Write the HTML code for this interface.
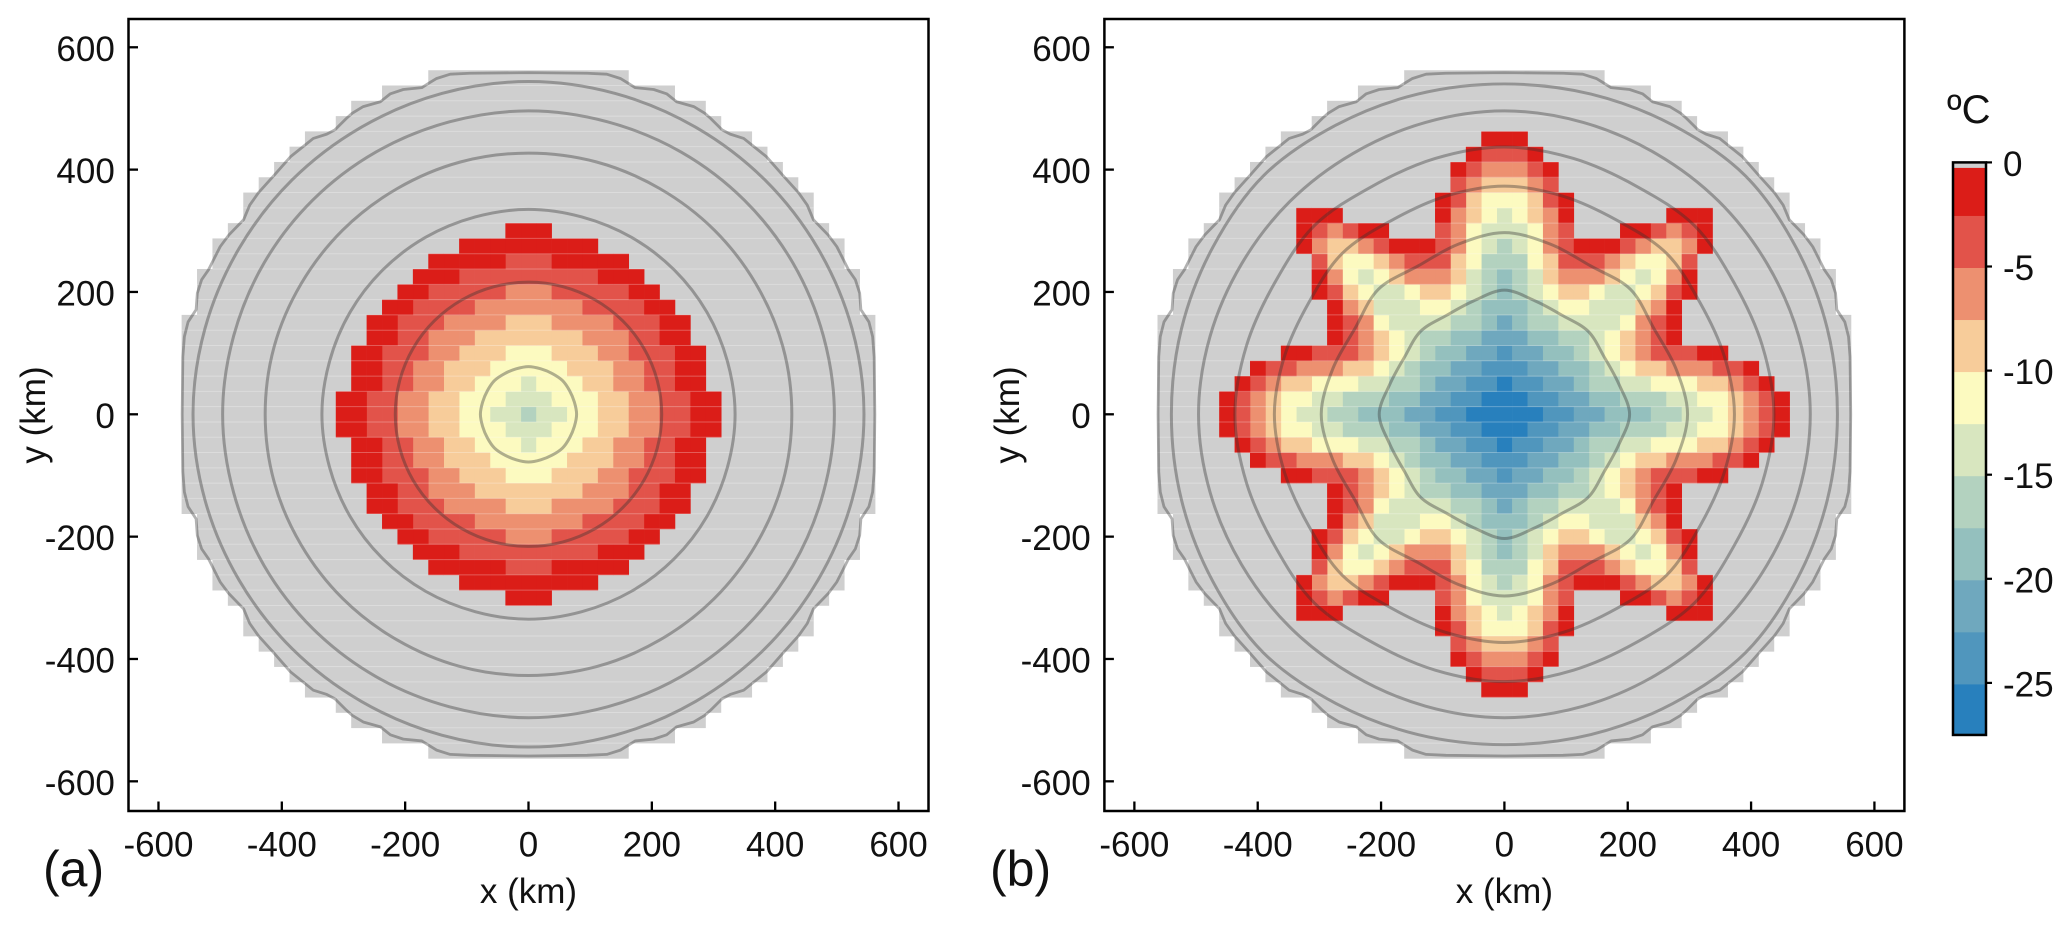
<!DOCTYPE html>
<html lang="en">
<head>
<meta charset="utf-8">
<title>Ice temperature maps</title>
<style>
html,body{margin:0;padding:0;background:#fff;width:2067px;height:929px;overflow:hidden}
svg{display:block}
text{font-family:"Liberation Sans",Arial,sans-serif;fill:#111}
</style>
</head>
<body>
<svg id="figure" xmlns="http://www.w3.org/2000/svg" width="2067" height="929" viewBox="0 0 2067 929">
  <g id="panel-a"></g>
  <g id="panel-b"></g>
  <g id="colorbar"></g>
  <text x="43" y="886" font-size="50">(a)</text>
  <text x="990" y="886" font-size="50">(b)</text>
  <text x="528.5" y="903" font-size="35" text-anchor="middle">x (km)</text>
  <text x="1504.4" y="903" font-size="35" text-anchor="middle">x (km)</text>
  <text transform="translate(45,415) rotate(-90)" font-size="35" text-anchor="middle">y (km)</text>
  <text transform="translate(1019,415) rotate(-90)" font-size="35" text-anchor="middle">y (km)</text>
  <text x="1947" y="123" font-size="40">ºC</text>
</svg>
<script>
// ---- chart data ----
var axisTicks = [-600, -400, -200, 0, 200, 400, 600];
var colorbarTicks = [0, -5, -10, -15, -20, -25];
var binBreaks = [0, -2.5, -5, -7.5, -10, -12.5, -15, -17.5, -20, -22.5, -25, -27.5];
var binColors = ['#db1d18', '#e2534a', '#ed9070', '#f7cc9a', '#fcfac0', '#d8e6bf', '#b3d2bf', '#94c0be', '#6fa8be', '#5096bd', '#2880bd'];
var gridSpacingKm = 25;

// Half-width (cell count) of the ice mask for rows j = 0..22
var iceHalfCells = [22, 22, 22, 22, 22, 22, 22, 21, 21, 21, 20, 20, 19, 18, 18, 17, 16, 15, 14, 12, 11, 9, 6];

// Surface temperature (deg C) upper-right quadrant: row j, column i. null = no melt-zone value
var tempA = [
  [-16, -14, -14, -11, -11, -9, -9, -6, -6, -4, -4, -1, -1],
  [-14, -14, -11, -11, -11, -9, -9, -6, -6, -4, -4, -1, -1],
  [-14, -11, -11, -11, -9, -9, -6, -6, -4, -4, -1, -1],
  [-11, -11, -11, -9, -9, -9, -6, -6, -4, -4, -1, -1],
  [-11, -11, -9, -9, -9, -6, -6, -4, -4, -4, -1, -1],
  [-9, -9, -9, -9, -6, -6, -6, -4, -4, -1, -1],
  [-9, -9, -6, -6, -6, -6, -4, -4, -4, -1, -1],
  [-6, -6, -6, -6, -4, -4, -4, -4, -1, -1],
  [-6, -6, -4, -4, -4, -4, -4, -1, -1],
  [-4, -4, -4, -4, -4, -1, -1, -1],
  [-4, -4, -1, -1, -1, -1, -1],
  [-1, -1, -1, -1, -1],
  [-1, -1]
];
var tempB = [
  [-26, -26, -26, -24, -24, -21, -21, -19, -19, -19, -16, -16, -14, -14, -11, -9, -6, -4, -1],
  [-26, -26, -24, -24, -21, -21, -19, -19, -16, -16, -16, -14, -14, -11, -11, -9, -6, -4, -1],
  [-26, -24, -24, -21, -21, -19, -16, -16, -14, -14, -11, -11, -11, -9, -9, -6, -4, -1],
  [-24, -24, -21, -21, -19, -19, -16, -14, -11, -9, -9, -6, -6, -6, -4, -4, -1],
  [-24, -21, -21, -19, -19, -16, -14, -11, -9, -6, -4, -4, -4, -1, -1],
  [-21, -21, -19, -19, -16, -16, -14, -11, -9, -6, -4, -1],
  [-21, -19, -16, -16, -14, -14, -14, -14, -11, -6, -4, -1],
  [-19, -19, -16, -14, -11, -11, -14, -14, -14, -9, -6, -1],
  [-19, -16, -14, -11, -9, -9, -11, -14, -14, -11, -9, -4, -1],
  [-19, -16, -14, -9, -6, -6, -6, -9, -11, -14, -11, -6, -1],
  [-16, -16, -11, -9, -4, -4, -4, -6, -9, -11, -11, -9, -4],
  [-16, -14, -11, -6, -4, -1, -1, -1, -4, -6, -9, -9, -6, -1],
  [-14, -14, -11, -6, -4, null, null, null, -1, -1, -4, -6, -4, -1],
  [-14, -11, -9, -6, -1, null, null, null, null, null, null, -1, -1, -1],
  [-11, -11, -9, -4, -1],
  [-9, -9, -6, -4],
  [-6, -6, -4, -1],
  [-4, -4, -1],
  [-1, -1]
];

// Ice-thickness contours: radius (km) at each polar angle in the first quadrant
var contourAngles = [0, 15, 30, 45, 60, 75, 90];
var contoursA = [
  [544, 543, 542, 542, 542, 543, 544],
  [496, 495, 495, 495, 495, 495, 496],
  [427, 427, 426, 426, 426, 427, 427],
  [335, 334, 334, 334, 334, 334, 335],
  [216, 216, 216, 216, 216, 216, 216],
  [78, 77, 77, 78, 77, 77, 78]
];
var contoursB = [
  [540, 542, 546, 552, 546, 542, 540],
  [496, 494, 492, 492, 492, 494, 496],
  [437, 433, 430, 436, 430, 433, 437],
  [373, 369, 366, 372, 366, 369, 373],
  [297, 288, 280, 289, 280, 288, 297],
  [203, 192, 187, 192, 187, 192, 203]
];
// Outer ice margin contour, first quadrant (km)
var marginX = [0, 95, 127, 149, 162, 173, 203, 224, 240, 268, 286, 295, 314, 327, 349, 365, 386, 413, 438, 452, 462, 486, 500, 511, 519, 530, 537, 539, 552, 558, 560.5, 561.6];
var marginY = [558.6, 557.5, 556, 549, 541, 534, 531, 524, 511, 503, 492, 484, 465, 458, 451, 438, 421, 390, 362, 342, 318, 293, 274, 252, 236, 220, 198, 171, 151, 127, 94, 0];

// ---- layout ----
var NS = 'http://www.w3.org/2000/svg';
var KM_X = 0.6167, KM_Y = 0.6117, Y_ZERO = 414.3;
var FRAME_TOP = 19, FRAME_BOTTOM = 811;
var ICE_GRAY = '#cfcfcf';
var CONTOUR = 'rgba(50,50,50,0.38)';

function mk(parent, tag, attrs, txt) {
  var n = document.createElementNS(NS, tag);
  for (var k in attrs) n.setAttribute(k, attrs[k]);
  if (txt !== undefined) n.textContent = txt;
  parent.appendChild(n);
  return n;
}
function binColor(t) {
  for (var b = 0; b < binColors.length; b++) {
    if (t <= binBreaks[b] && t > binBreaks[b + 1]) return binColors[b];
  }
  return binColors[binColors.length - 1];
}
function smoothClosedPath(pts) {
  var n = pts.length, d = 'M' + pts[0][0].toFixed(2) + ' ' + pts[0][1].toFixed(2);
  for (var i = 0; i < n; i++) {
    var p0 = pts[(i - 1 + n) % n], p1 = pts[i], p2 = pts[(i + 1) % n], p3 = pts[(i + 2) % n];
    d += 'C' + (p1[0] + (p2[0] - p0[0]) / 6).toFixed(2) + ' ' + (p1[1] + (p2[1] - p0[1]) / 6).toFixed(2) + ' ' +
      (p2[0] - (p3[0] - p1[0]) / 6).toFixed(2) + ' ' + (p2[1] - (p3[1] - p1[1]) / 6).toFixed(2) + ' ' +
      p2[0].toFixed(2) + ' ' + p2[1].toFixed(2);
  }
  return d + 'Z';
}

function drawPanel(group, xZero, temps, contours) {
  function xs(km) { return xZero + km * KM_X; }
  function ys(km) { return Y_ZERO - km * KM_Y; }
  var cellW = gridSpacingKm * KM_X, cellH = gridSpacingKm * KM_Y;
  var signs = [1, -1];

  // ice mask rows
  iceHalfCells.forEach(function (half, j) {
    signs.forEach(function (s) {
      if (j === 0 && s < 0) return;
      var row = mk(group, 'rect', {
        x: xs(-(half + 0.5) * gridSpacingKm), y: ys((s * j + 0.5) * gridSpacingKm),
        width: (2 * half + 1) * cellW, height: cellH + 0.3, fill: ICE_GRAY
      });
      
      
    });
  });

  // temperature cells
  temps.forEach(function (rowVals, j) {
    rowVals.forEach(function (t, i) {
      if (t === null) return;
      signs.forEach(function (sy) {
        if (j === 0 && sy < 0) return;
        signs.forEach(function (sx) {
          if (i === 0 && sx < 0) return;
          var cell = mk(group, 'rect', {
            x: xs((sx * i - 0.5) * gridSpacingKm), y: ys((sy * j + 0.5) * gridSpacingKm),
            width: cellW + 0.3, height: cellH + 0.3, fill: binColor(t)
          });
          
          
        });
      });
    });
  });

  // faint light seams between rows
  for (var j = -22; j <= 21; j++) {
    var a = Math.abs(j), b = Math.abs(j + 1);
    var half = Math.min(iceHalfCells[a], iceHalfCells[b]);
    var seam = mk(group, 'line', {
      x1: xs(-(half + 0.5) * gridSpacingKm), x2: xs((half + 0.5) * gridSpacingKm),
      y1: ys((j + 0.5) * gridSpacingKm), y2: ys((j + 0.5) * gridSpacingKm),
      stroke: 'rgba(255,255,255,0.28)', 'stroke-width': 1
    });
    
    
  }

  // thickness contours
  contours.forEach(function (radii) {
    var pts = [], q, k, a, r;
    for (q = 0; q < 4; q++) {
      var n = contourAngles.length;
      for (k = 0; k < n - 1; k++) {
        var idx = (q % 2 === 0) ? k : n - 1 - k;
        a = (q % 2 === 0 ? contourAngles[k] : 90 - contourAngles[n - 1 - k]) + q * 90;
        r = radii[idx];
        pts.push([xs(r * Math.cos(a * Math.PI / 180)), ys(r * Math.sin(a * Math.PI / 180))]);
      }
    }
    var c = mk(group, 'path', { d: smoothClosedPath(pts), fill: 'none', stroke: CONTOUR, 'stroke-width': 3 });
    
    
  });

  // outer margin contour
  var seq = [], m;
  for (m = 0; m < marginX.length; m++) seq.push([marginX[m], marginY[m]]);
  for (m = marginX.length - 2; m >= 0; m--) seq.push([marginX[m], -marginY[m]]);
  for (m = 1; m < marginX.length; m++) seq.push([-marginX[m], -marginY[m]]);
  for (m = marginX.length - 2; m > 0; m--) seq.push([-marginX[m], marginY[m]]);
  var margin = mk(group, 'polygon', {
    points: seq.map(function (p) { return xs(p[0]).toFixed(2) + ',' + ys(p[1]).toFixed(2); }).join(' '),
    fill: 'none', stroke: CONTOUR, 'stroke-width': 2.8, 'stroke-linejoin': 'round'
  });
  
  

  // frame
  var left = xZero - 400, right = xZero + 400;
  var frame = mk(group, 'rect', {
    x: left, y: FRAME_TOP, width: right - left, height: FRAME_BOTTOM - FRAME_TOP,
    fill: 'none', stroke: '#000', 'stroke-width': 2.5
  });
  
  

  // ticks + labels
  axisTicks.forEach(function (v) {
    var tx = mk(group, 'line', { x1: xs(v), x2: xs(v), y1: FRAME_BOTTOM, y2: FRAME_BOTTOM - 9.5, stroke: '#000', 'stroke-width': 2.3 });
    
    
    var lx = mk(group, 'text', { x: xs(v), y: 856.5, 'font-size': 35, 'text-anchor': 'middle' }, String(v));
    
    
    var ty = mk(group, 'line', { x1: left, x2: left + 9.5, y1: ys(v), y2: ys(v), stroke: '#000', 'stroke-width': 2.3 });
    
    
    var ly = mk(group, 'text', { x: left - 13.7, y: ys(v) + 13.5, 'font-size': 35, 'text-anchor': 'end' }, String(v));
    
    
  });
}

drawPanel(document.getElementById('panel-a'), 528.5, tempA, contoursA);
drawPanel(document.getElementById('panel-b'), 1504.4, tempB, contoursB);

// ---- colorbar ----
(function () {
  var g = document.getElementById('colorbar');
  var L = 1953, R = 1986, PER_DEG = 20.82, Y0 = 162.4;
  function cy(t) { return Y0 - t * PER_DEG; }
  binColors.forEach(function (col, b) {
    var top = cy(binBreaks[b]) + (b === 0 ? 0 : 1.5);
    var bottom = b === binColors.length - 1 ? cy(binBreaks[b + 1]) : cy(binBreaks[b + 1]) + 1.5;
    var seg = mk(g, 'rect', { x: L, y: top, width: R - L, height: bottom - top + 0.3, fill: col });
    
    
  });
  var iceCap = mk(g, 'rect', { x: L, y: cy(0), width: R - L, height: 5.5, fill: ICE_GRAY });
  
  
  var fr = mk(g, 'rect', { x: L, y: cy(0), width: R - L, height: cy(-27.5) - cy(0), fill: 'none', stroke: '#000', 'stroke-width': 2.5 });
  
  
  colorbarTicks.forEach(function (v) {
    var t = mk(g, 'line', { x1: R, x2: R + 6, y1: cy(v), y2: cy(v), stroke: '#000', 'stroke-width': 2.2 });
    
    
    var l = mk(g, 'text', { x: 2003, y: cy(v) + 13.5, 'font-size': 35 }, String(v));
    
    
  });
})();
</script>
</body>
</html>
